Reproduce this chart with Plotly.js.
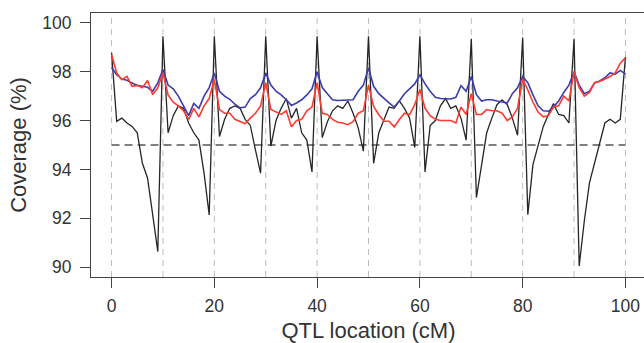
<!DOCTYPE html>
<html>
<head>
<meta charset="utf-8">
<script src="https://cdn.plot.ly/plotly-3.0.1.min.js"></script>
<style>
html,body{margin:0;padding:0;background:#fff;overflow:hidden;}
#chart{width:650px;height:343px;}
</style>
</head>
<body>
<div id="chart"></div>
<script>
// QTL location (cM), 0..100 step 1
const qtlLocation = Array.from({length: 101}, (_, i) => i);
const markerPositions = [0, 10, 20, 30, 40, 50, 60, 70, 80, 90, 100];
const nominalCoverage = 95;
const xTickValues = [0, 20, 40, 60, 80, 100];
const yTickValues = [90, 92, 94, 96, 98, 100];

const coverageBlack = [
 98.77, 95.97, 96.1, 95.9, 95.76, 95.5, 94.25, 93.65, 92.15, 90.64,
 99.45, 95.5, 96.2, 96.6, 96.5, 95.9, 95.5, 95.2, 93.85, 92.14,
 99.45, 95.35, 96.05, 96.5, 96.6, 96.5, 96.05, 95.8, 94.8, 93.85,
 99.45, 94.95, 96.0, 96.5, 96.9, 96.1, 96.5, 95.5, 95.2, 93.9,
 99.45, 95.3, 95.95, 96.4, 96.6, 96.5, 96.8, 96.3, 95.7, 94.75,
 99.45, 94.25, 95.5, 96.05, 96.55, 96.5, 96.8, 96.5, 96.1, 94.9,
 99.45, 93.9, 95.8, 96.0, 96.6, 96.9, 96.5, 96.6, 96.1, 95.2,
 99.35, 92.85, 94.25, 95.5, 96.1, 96.65, 96.85, 96.65, 96.1, 95.4,
 99.4, 92.15, 94.2, 95.0, 95.75, 96.25, 96.7, 96.25, 96.2, 95.9,
 99.35, 90.05, 91.9, 93.45, 94.25, 95.0, 95.9, 96.05, 95.9, 96.05,
 98.6
];

const coverageBlue = [
 98.16, 97.88, 97.7, 97.65, 97.54, 97.44, 97.4, 97.36, 97.2, 97.54,
 98.09, 97.45, 97.3, 97.0, 96.6, 96.2, 96.7, 96.5, 97.0, 97.35,
 97.95, 97.2, 97.0, 96.87, 96.67, 96.52, 96.55, 96.9, 97.06, 97.34,
 97.95, 97.45, 97.2, 97.05, 96.85, 96.62, 96.72, 96.85, 97.05, 97.3,
 98.0, 97.35, 97.1, 96.85, 96.82, 96.82, 96.82, 96.85, 97.2, 97.45,
 98.15, 97.4, 97.1, 96.9, 96.72, 96.55, 96.8, 97.1, 97.3, 97.5,
 97.88, 97.5, 97.2, 96.95, 96.9, 96.88, 96.88, 96.95, 97.43, 97.2,
 97.8, 97.06, 96.8, 96.85, 96.85, 96.8, 96.75, 96.72, 97.1, 97.34,
 97.8, 97.55, 97.05, 96.6, 96.4, 96.38, 96.55, 96.8, 97.15, 97.45,
 98.0, 97.45, 97.1, 97.2, 97.55, 97.62, 97.75, 97.95, 97.9, 98.05,
 97.9
];

const coverageRed = [
 98.7, 97.95, 97.67, 97.81, 97.4, 97.44, 97.34, 97.64, 97.06, 97.34,
 97.95, 97.05, 96.75, 96.6, 96.4, 96.05, 96.5, 96.15, 96.6, 96.9,
 97.68, 96.45, 96.3, 96.3, 96.05, 95.95, 95.87, 96.1, 96.3, 96.6,
 97.55, 96.45, 96.35, 96.25, 96.4, 95.75, 96.0, 96.05, 96.4, 96.55,
 97.55, 96.3, 96.25, 96.05, 95.93, 95.9, 95.83, 95.95, 96.3, 96.4,
 97.45, 96.58, 96.24, 95.97, 95.97, 95.74, 96.04, 96.3, 96.24, 96.65,
 97.27, 96.5, 96.2, 96.05, 96.0, 96.0, 96.0, 95.9, 96.55, 96.25,
 97.1, 96.25, 96.25, 96.45, 96.4, 96.4, 96.3, 96.0, 96.15, 96.5,
 97.7, 97.25, 96.75, 96.35, 96.15, 96.2, 96.55, 96.6, 97.0, 96.8,
 98.0, 97.35, 97.0, 97.15, 97.55, 97.6, 97.7, 97.8, 97.95, 98.35,
 98.57
];

const traces = [
  {x: qtlLocation, y: coverageBlack, type: 'scatter', mode: 'lines',
   line: {color: '#262626', width: 1.3}, hoverinfo: 'skip'},
  {x: qtlLocation, y: coverageBlue, type: 'scatter', mode: 'lines',
   line: {color: '#3c3cae', width: 1.6}, hoverinfo: 'skip'},
  {x: qtlLocation, y: coverageRed, type: 'scatter', mode: 'lines',
   line: {color: '#ff3a2e', width: 1.6}, hoverinfo: 'skip'}
];

const shapes = markerPositions.map(m => ({
  type: 'line', xref: 'x', yref: 'paper', x0: m, x1: m, y0: 0, y1: 1,
  layer: 'below', line: {color: '#bdbdbd', width: 1, dash: '6px,5px'}
}));
shapes.push({
  type: 'line', xref: 'x', yref: 'y', x0: markerPositions[0],
  x1: markerPositions[markerPositions.length - 1],
  y0: nominalCoverage, y1: nominalCoverage, layer: 'below',
  line: {color: '#555555', width: 1.5, dash: '8px,5px'}
});

const tickFont = {family: 'Liberation Sans, Arial, sans-serif', size: 17.5, color: '#333'};
const titleFont = {family: 'Liberation Sans, Arial, sans-serif', size: 22, color: '#333'};

const layout = {
  width: 650, height: 343,
  margin: {l: 91, r: 3.7, t: 13.3, b: 66.3},
  paper_bgcolor: '#fff', plot_bgcolor: '#fff',
  showlegend: false,
  shapes: shapes,
  xaxis: {
    range: [-4, 104], tickvals: xTickValues, ticks: 'outside', ticklen: 10,
    tickwidth: 1.2, tickcolor: '#444', showline: true, linecolor: '#444',
    linewidth: 1, mirror: true, showgrid: false, zeroline: false,
    tickfont: tickFont, ticklabelstandoff: 3,
    title: {text: 'QTL location (cM)', font: titleFont, standoff: 13}
  },
  yaxis: {
    range: [89.6, 100.4], tickvals: yTickValues, ticks: 'outside', ticklen: 10,
    tickwidth: 1.2, tickcolor: '#444', showline: true, linecolor: '#444',
    linewidth: 1, mirror: true, showgrid: false, zeroline: false,
    tickfont: tickFont, ticklabelstandoff: 5,
    title: {text: 'Coverage (%)', font: titleFont, standoff: 9}
  }
};

Plotly.newPlot('chart', traces, layout, {staticPlot: true, displayModeBar: false});
</script>
</body>
</html>
